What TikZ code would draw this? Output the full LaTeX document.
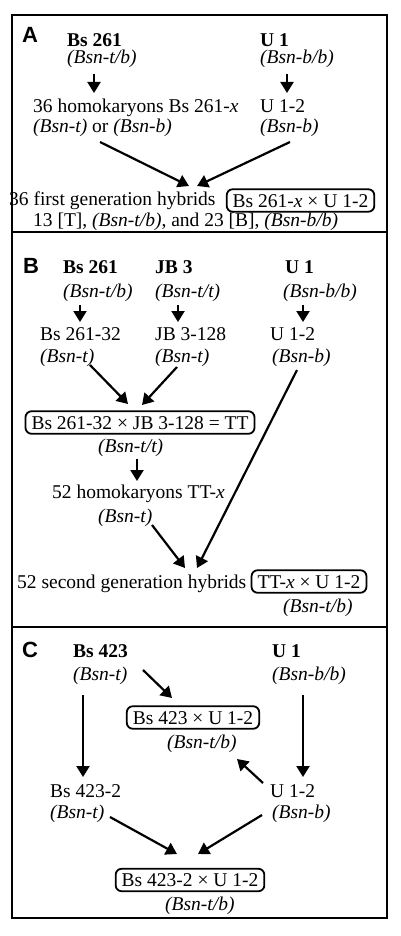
\documentclass[tikz,border=0pt]{standalone}
\usepackage{fontspec}
\setmainfont{Liberation Serif}
\newfontfamily\panelfont{Liberation Sans}
\usetikzlibrary{arrows.meta}
\begin{document}
\begin{tikzpicture}[x=1pt,y=-1pt,
  lbl/.style={anchor=base west,inner sep=0pt,font=\fontsize{19.5}{22}\selectfont},
  gen/.style={lbl,font=\fontsize{19.5}{22}\selectfont\itshape},
  strain/.style={lbl,font=\fontsize{19.5}{22}\selectfont\bfseries},
  panel/.style={anchor=base west,inner sep=0pt,font=\panelfont\bfseries\fontsize{22}{24}\selectfont},
  cross/.style={draw,line width=1.8pt,rounded corners=6pt,inner xsep=6pt,inner ysep=4.5pt,
    text height=13.5pt,text depth=0pt,anchor=center,font=\fontsize{19.5}{22}\selectfont},
  arr/.style={line width=2.2pt,-{Triangle[width=13pt,length=11pt]}},
  frame/.style={line width=2pt}]
\useasboundingbox (0,0) rectangle (400,936);
% frame
\draw[frame] (12,15) rectangle (387,918);
\draw[frame] (12,232) -- (387,232);
\draw[frame] (12,627) -- (387,627);

% ---------- Panel A ----------
\node[panel] (pA) at (22,43) {A};
\node[strain] (aBs) at (67,46.5) {Bs 261};
\node[gen] (aBsg) at (67,64) {(Bsn-t/b)};
\node[strain] (aU) at (260,46.5) {U 1};
\node[gen] (aUg) at (260,64) {(Bsn-b/b)};
\node[lbl] (aHom) at (33,113) {36 homokaryons Bs 261-\textit{x}};
\node[lbl] (aHomg) at (33,133) {\textit{(Bsn-t)} or \textit{(Bsn-b)}};
\node[lbl] (aU2) at (260,113) {U 1-2};
\node[gen] (aU2g) at (260,133) {(Bsn-b)};
\node[lbl] (aHyb) at (9,205) {36 first generation hybrids};
\node[cross] (aBox) at (300.5,200.5) {Bs 261-\textit{x} × U 1-2};
\node[lbl] (aRes) at (33,226) {13 [T], \textit{(Bsn-t/b)}, and 23 [B], \textit{(Bsn-b/b)}};
\coordinate (a1s) at (94,74);  \coordinate (a1e) at (94,93);
\coordinate (a2s) at (287,74); \coordinate (a2e) at (287,93);
\coordinate (a3s) at (100,142); \coordinate (a3e) at (189,186);
\coordinate (a4s) at (290,142); \coordinate (a4e) at (197,186);
\draw[arr] (a1s) -- (a1e);
\draw[arr] (a2s) -- (a2e);
\draw[arr] (a3s) -- (a3e);
\draw[arr] (a4s) -- (a4e);

% ---------- Panel B ----------
\node[panel] (pB) at (23,273) {B};
\node[strain] (bBs) at (63,273) {Bs 261};
\node[strain] (bJB) at (155,273) {JB 3};
\node[strain] (bU) at (285,273) {U 1};
\node[gen] (bBsg) at (63,297) {(Bsn-t/b)};
\node[gen] (bJBg) at (155,297) {(Bsn-t/t)};
\node[gen] (bUg) at (283,297) {(Bsn-b/b)};
\node[lbl] (bBs2) at (40,340) {Bs 261-32};
\node[lbl] (bJB2) at (155,340) {JB 3-128};
\node[lbl] (bU2) at (270,340) {U 1-2};
\node[gen] (bBs2g) at (40,362) {(Bsn-t)};
\node[gen] (bJB2g) at (155,362) {(Bsn-t)};
\node[gen] (bU2g) at (272,362) {(Bsn-b)};
\node[cross] (bTT) at (140,422.5) {Bs 261-32 × JB 3-128 = TT};
\node[gen] (bTTg) at (98,452) {(Bsn-t/t)};
\node[lbl] (bHom) at (52,498) {52 homokaryons TT-\textit{x}};
\node[gen] (bHomg) at (98,522) {(Bsn-t)};
\node[lbl] (bHyb) at (17,588) {52 second generation hybrids};
\node[cross] (bBox) at (309,581.5) {TT-\textit{x} × U 1-2};
\node[gen] (bBoxg) at (283,612) {(Bsn-t/b)};
\coordinate (b1s) at (80,305);  \coordinate (b1e) at (80,322);
\coordinate (b2s) at (178,305); \coordinate (b2e) at (178,322);
\coordinate (b3s) at (303,305); \coordinate (b3e) at (303,322);
\coordinate (b4s) at (90,365);  \coordinate (b4e) at (128,404);
\coordinate (b5s) at (177,367); \coordinate (b5e) at (142,405);
\coordinate (b6s) at (297,370); \coordinate (b6e) at (197,568);
\coordinate (b7s) at (137,459); \coordinate (b7e) at (137,481);
\coordinate (b8s) at (152,525); \coordinate (b8e) at (185,568);
\foreach \i in {1,...,8} {\draw[arr] (b\i s) -- (b\i e);}

% ---------- Panel C ----------
\node[panel] (pC) at (22,657) {C};
\node[strain] (cBs) at (73,657) {Bs 423};
\node[gen] (cBsg) at (73,680) {(Bsn-t)};
\node[strain] (cU) at (272,657) {U 1};
\node[gen] (cUg) at (272,680) {(Bsn-b/b)};
\node[cross] (cBox1) at (193,717.5) {Bs 423 × U 1-2};
\node[gen] (cBox1g) at (167,748) {(Bsn-t/b)};
\node[lbl] (cBs2) at (50,797) {Bs 423-2};
\node[gen] (cBs2g) at (50,818) {(Bsn-t)};
\node[lbl] (cU2) at (270,797) {U 1-2};
\node[gen] (cU2g) at (272,818) {(Bsn-b)};
\node[cross] (cBox2) at (190,880) {Bs 423-2 × U 1-2};
\node[gen] (cBox2g) at (165,910) {(Bsn-t/b)};
\coordinate (c1s) at (143,670); \coordinate (c1e) at (172,698);
\coordinate (c2s) at (83,695);  \coordinate (c2e) at (83,777);
\coordinate (c3s) at (303,695); \coordinate (c3e) at (303,777);
\coordinate (c4s) at (263,783); \coordinate (c4e) at (237,759);
\coordinate (c5s) at (110,817); \coordinate (c5e) at (177,854);
\coordinate (c6s) at (262,815); \coordinate (c6e) at (198,854);
\foreach \i in {1,...,6} {\draw[arr] (c\i s) -- (c\i e);}
\end{tikzpicture}
\end{document}
